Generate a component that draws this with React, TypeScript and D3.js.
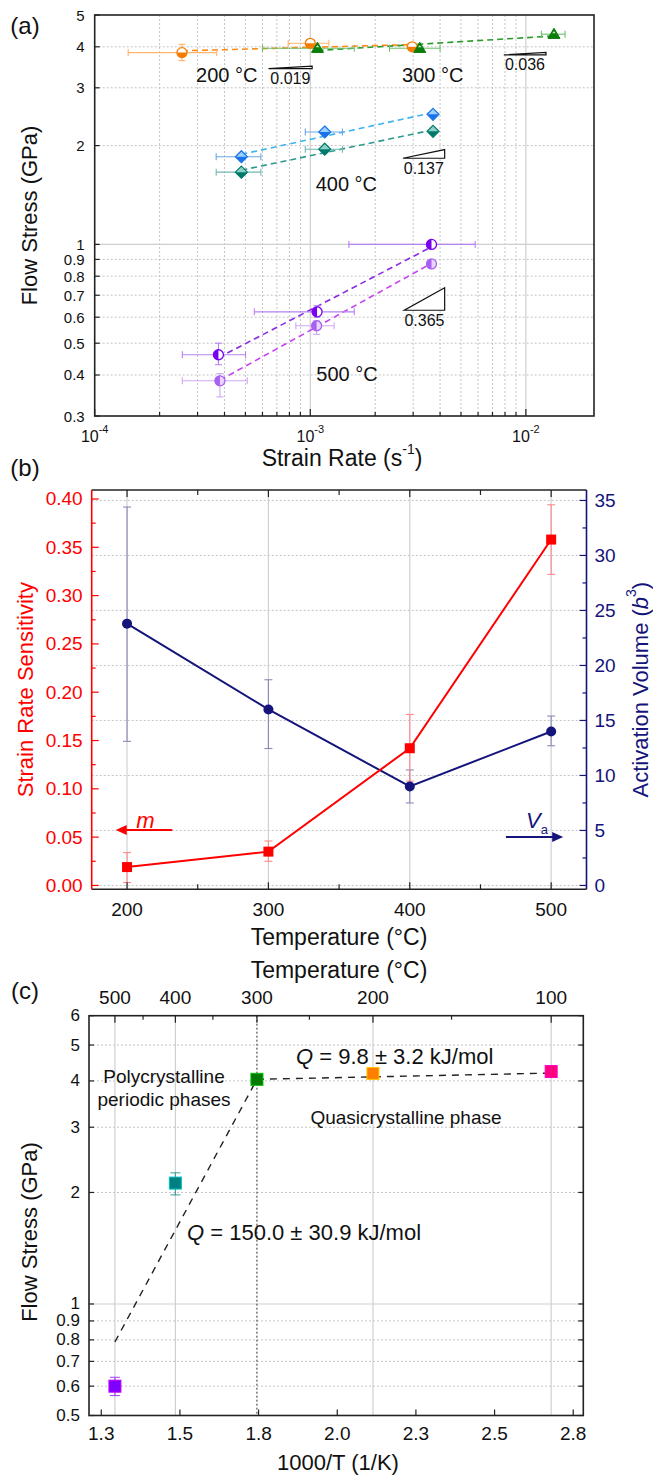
import React from "react";
import * as d3 from "d3";

const FONT = "Arial, 'Liberation Sans', Helvetica, sans-serif";
const W = 653;
const H = 1476;

// ---------------- Panel (a) data: strain-rate jump tests ----------------
interface RatePt {
  rate: number;
  stress: number;
  rateLo?: number;
  rateHi?: number;
  stressLo?: number;
  stressHi?: number;
}

const jump200: RatePt[] = [
  { rate: 2.54e-4, stress: 3.84, rateLo: 1.43e-4, rateHi: 3.68e-4, stressLo: 3.63, stressHi: 4.07 },
  { rate: 1.0e-3, stress: 4.1, rateLo: 7.9e-4, rateHi: 1.22e-3, stressLo: 4.0, stressHi: 4.2 },
  { rate: 2.97e-3, stress: 4.0 },
];
const jump300: RatePt[] = [
  { rate: 1.08e-3, stress: 3.96, rateLo: 6.0e-4, rateHi: 1.6e-3 },
  { rate: 3.22e-3, stress: 3.96, rateLo: 2.33e-3, rateHi: 4.0e-3 },
  { rate: 1.35e-2, stress: 4.37, rateLo: 1.18e-2, rateHi: 1.52e-2 },
];
const jump400a: RatePt[] = [
  { rate: 4.79e-4, stress: 1.85, rateLo: 3.66e-4, rateHi: 5.9e-4 },
  { rate: 1.167e-3, stress: 2.2, rateLo: 9.48e-4, rateHi: 1.41e-3 },
  { rate: 3.71e-3, stress: 2.49 },
];
const jump400b: RatePt[] = [
  { rate: 4.79e-4, stress: 1.66, rateLo: 3.66e-4, rateHi: 5.9e-4 },
  { rate: 1.167e-3, stress: 1.95, rateLo: 9.48e-4, rateHi: 1.41e-3 },
  { rate: 3.71e-3, stress: 2.21 },
];
const jump500a: RatePt[] = [
  { rate: 3.75e-4, stress: 0.461, rateLo: 2.55e-4, rateHi: 5.01e-4, stressLo: 0.43, stressHi: 0.5 },
  { rate: 1.075e-3, stress: 0.623, rateLo: 5.5e-4, rateHi: 1.6e-3, stressLo: 0.6, stressHi: 0.65 },
  { rate: 3.65e-3, stress: 1.0, rateLo: 1.51e-3, rateHi: 5.82e-3 },
];
const jump500b: RatePt[] = [
  { rate: 3.81e-4, stress: 0.384, rateLo: 2.55e-4, rateHi: 5.1e-4, stressLo: 0.343, stressHi: 0.404 },
  { rate: 1.07e-3, stress: 0.565, rateLo: 8.57e-4, rateHi: 1.29e-3, stressLo: 0.532, stressHi: 0.585 },
  { rate: 3.65e-3, stress: 0.872 },
];

const aYTicks = [0.3, 0.4, 0.5, 0.6, 0.7, 0.8, 0.9, 1, 2, 3, 4, 5];
const aXMajor = [1e-4, 1e-3, 1e-2];
const aXExp = ["-4", "-3", "-2"];

// slope triangles: m value, rate span, base stress
const slopeMarks = [
  { m: 0.019, rate0: 6.4e-4, rate1: 1.02e-3, base: 3.43 },
  { m: 0.036, rate0: 7.9e-3, rate1: 1.24e-2, base: 3.78 },
  { m: 0.137, rate0: 2.69e-3, rate1: 4.2e-3, base: 1.83 },
  { m: 0.365, rate0: 2.73e-3, rate1: 4.2e-3, base: 0.63 },
];
const tempLabelsA = [
  { text: "200 °C", rate: 4.1e-4, stress: 3.28 },
  { text: "300 °C", rate: 3.7e-3, stress: 3.28 },
  { text: "400 °C", rate: 1.47e-3, stress: 1.53 },
  { text: "500 °C", rate: 1.48e-3, stress: 0.402 },
];

// ---------------- Panel (b) data ----------------
const bTemps = [200, 300, 400, 500];
const mValues = [0.019, 0.035, 0.142, 0.358];
const mErrLo = [0.003, 0.025, 0.108, 0.322];
const mErrHi = [0.034, 0.046, 0.177, 0.394];
const vaValues = [23.8, 16.0, 9.0, 14.0];
const vaErrLo = [13.1, 12.45, 7.5, 12.7];
const vaErrHi = [34.4, 18.7, 10.5, 15.4];
const bXTicks = [200, 300, 400, 500];
const bLeftTicks = [0, 0.05, 0.1, 0.15, 0.2, 0.25, 0.3, 0.35, 0.4];
const bRightTicks = [0, 5, 10, 15, 20, 25, 30, 35];

// ---------------- Panel (c) data ----------------
const cTemps = [500, 400, 300, 200, 100];
const cStress = [0.6, 2.12, 4.04, 4.19, 4.24];
const cErrLo = [0.566, 1.97, null, null, null];
const cErrHi = [0.634, 2.26, null, null, null];
const cColors = ["#8000ff", "#008080", "#007a00", "#ff8000", "#ff0080"];
const cBottomTicks = [1.25, 1.5, 1.75, 2.0, 2.25, 2.5, 2.75];
const cTopMajor = [500, 400, 300, 200, 100];
const cTopMinor = [450, 350, 250, 150];
const cYTicks = [0.5, 0.6, 0.7, 0.8, 0.9, 1, 2, 3, 4, 5, 6];
const polyFit = [
  { temp: 500, stress: 0.79 },
  { temp: 300, stress: 4.04 },
];
const quasiFit = [
  { temp: 300, stress: 4.04 },
  { temp: 100, stress: 4.2 },
];

const invT = (t: number) => 1000 / (t + 273.15);

// ---------------- helpers ----------------
function logFit(pts: RatePt[]) {
  const xs = pts.map((p) => Math.log10(p.rate));
  const ys = pts.map((p) => Math.log10(p.stress));
  const mx = d3.mean(xs) as number;
  const my = d3.mean(ys) as number;
  let sxy = 0;
  let sxx = 0;
  xs.forEach((x, i) => {
    sxy += (x - mx) * (ys[i] - my);
    sxx += (x - mx) * (x - mx);
  });
  const slope = sxy / sxx;
  const x0 = d3.min(xs) as number;
  const x1 = d3.max(xs) as number;
  return [
    { rate: Math.pow(10, x0), stress: Math.pow(10, my + slope * (x0 - mx)) },
    { rate: Math.pow(10, x1), stress: Math.pow(10, my + slope * (x1 - mx)) },
  ];
}

function Marker({ shape, x, y, color, light, half }: any) {
  if (shape === "circle") {
    const r = 5;
    const d =
      half === "left"
        ? `M${x},${y - r}A${r},${r} 0 0 0 ${x},${y + r}Z`
        : `M${x - r},${y}A${r},${r} 0 0 0 ${x + r},${y}Z`;
    return (
      <g>
        <circle cx={x} cy={y} r={r} fill={light} stroke={color} strokeWidth={1.3} />
        <path d={d} fill={color} />
      </g>
    );
  }
  if (shape === "diamond") {
    const r = 6;
    return (
      <g>
        <polygon
          points={`${x},${y - r} ${x + r},${y} ${x},${y + r} ${x - r},${y}`}
          fill={light}
          stroke={color}
          strokeWidth={1.2}
        />
        <polygon points={`${x - r},${y} ${x},${y + r} ${x + r},${y}`} fill={color} />
      </g>
    );
  }
  const r = 6;
  return (
    <g>
      <polygon
        points={`${x},${y - r} ${x + r},${y + r * 0.7} ${x - r},${y + r * 0.7}`}
        fill={color}
        stroke={color}
        strokeWidth={1}
      />
      <polygon points={`${x},${y - r + 3} ${x + 1.8},${y - 1} ${x - 1.8},${y - 1}`} fill={light} />
    </g>
  );
}

// ---------------- Panel (a) ----------------
const aSeries = [
  { pts: jump200, color: "#f57c00", light: "#ffffff", line: "#ff8c1a", err: "#ffb36b", shape: "circle", half: "bottom" },
  { pts: jump300, color: "#0a7d0a", light: "#c8f0c8", line: "#2a9a2a", err: "#6cc06c", shape: "triangle", half: "bottom" },
  { pts: jump400a, color: "#1a73e8", light: "#9cd0ff", line: "#3bb4f0", err: "#6aa6e8", shape: "diamond", half: "bottom" },
  { pts: jump400b, color: "#00796b", light: "#8fd1c6", line: "#2a9a90", err: "#72b8b0", shape: "diamond", half: "bottom" },
  { pts: jump500a, color: "#7a00f0", light: "#ffffff", line: "#8a2be2", err: "#b583f0", shape: "circle", half: "left" },
  { pts: jump500b, color: "#a860f0", light: "#e8d4ff", line: "#c640f0", err: "#cfa8f5", shape: "circle", half: "left" },
];

function PanelA() {
  const L = 94.7, R = 594, T = 15, B = 416;
  const x = d3.scaleLog().domain([1e-4, 2.07e-2]).range([L, R]);
  const y = d3.scaleLog().domain([0.3, 5]).range([B, T]);
  const minorX: number[] = [];
  aXMajor.slice(0, 2).forEach((d) => {
    for (let k = 2; k <= 9; k++) minorX.push(d * k);
  });
  const dotted = { stroke: "#c4c4c4", strokeDasharray: "2,2", strokeWidth: 1 };
  const solid = { stroke: "#cfcfcf", strokeWidth: 1.2 };
  return (
    <g>
      {minorX.map((v) => (
        <line key={"gx" + v} x1={x(v)} x2={x(v)} y1={T} y2={B} {...dotted} />
      ))}
      {aXMajor.slice(1).map((v) => (
        <line key={"gX" + v} x1={x(v)} x2={x(v)} y1={T} y2={B} {...solid} />
      ))}
      {aYTicks
        .filter((v) => v !== 1 && v > 0.3 && v < 5)
        .map((v) => (
          <line key={"gy" + v} x1={L} x2={R} y1={y(v)} y2={y(v)} {...dotted} />
        ))}
      <line x1={L} x2={R} y1={y(1)} y2={y(1)} {...solid} />

      {aSeries.map((s, i) => {
        const f = logFit(s.pts);
        return (
          <line
            key={"fit" + i}
            x1={x(f[0].rate)}
            y1={y(f[0].stress)}
            x2={x(f[1].rate)}
            y2={y(f[1].stress)}
            stroke={s.line}
            strokeWidth={1.6}
            strokeDasharray="6,4"
          />
        );
      })}

      {aSeries.map((s, i) =>
        s.pts.map((p, j) => (
          <g key={`e${i}-${j}`} stroke={s.err} strokeWidth={1.1}>
            {p.rateLo !== undefined && (
              <>
                <line x1={x(p.rateLo)} x2={x(p.rateHi!)} y1={y(p.stress)} y2={y(p.stress)} />
                <line x1={x(p.rateLo)} x2={x(p.rateLo)} y1={y(p.stress) - 3.5} y2={y(p.stress) + 3.5} />
                <line x1={x(p.rateHi!)} x2={x(p.rateHi!)} y1={y(p.stress) - 3.5} y2={y(p.stress) + 3.5} />
              </>
            )}
            {p.stressLo !== undefined && (
              <>
                <line x1={x(p.rate)} x2={x(p.rate)} y1={y(p.stressLo)} y2={y(p.stressHi!)} />
                <line x1={x(p.rate) - 3.5} x2={x(p.rate) + 3.5} y1={y(p.stressLo)} y2={y(p.stressLo)} />
                <line x1={x(p.rate) - 3.5} x2={x(p.rate) + 3.5} y1={y(p.stressHi!)} y2={y(p.stressHi!)} />
              </>
            )}
          </g>
        ))
      )}

      {aSeries.map((s, i) =>
        s.pts.map((p, j) => (
          <Marker
            key={`m${i}-${j}`}
            shape={s.shape}
            x={x(p.rate)}
            y={y(p.stress)}
            color={s.color}
            light={s.light}
            half={s.half}
          />
        ))
      )}

      {slopeMarks.map((sm, i) => {
        const x0 = x(sm.rate0);
        const x1 = x(sm.rate1);
        const y0 = y(sm.base);
        const top = sm.base * Math.pow(sm.rate1 / sm.rate0, sm.m);
        const y1 = Math.min(y(top), y0 - 2.5);
        return (
          <g key={"sl" + i}>
            <polygon points={`${x0},${y0} ${x1},${y0} ${x1},${y1}`} fill="#fff" stroke="#111" strokeWidth={1.2} />
            <text x={(x0 + x1) / 2} y={y0 + 10} fontSize={16} textAnchor="middle" dominantBaseline="central" fill="#111">
              {sm.m.toFixed(3)}
            </text>
          </g>
        );
      })}

      {tempLabelsA.map((t, i) => (
        <text key={"tl" + i} x={x(t.rate)} y={y(t.stress)} fontSize={20} textAnchor="middle" dominantBaseline="central" fill="#111">
          {t.text}
        </text>
      ))}

      <rect x={L} y={T} width={R - L} height={B - T} fill="none" stroke="#222" strokeWidth={1.6} />
      {minorX.map((v) => (
        <line key={"tx" + v} x1={x(v)} x2={x(v)} y1={B} y2={B - 4} stroke="#222" strokeWidth={1.2} />
      ))}
      {aXMajor.map((v) => (
        <line key={"tX" + v} x1={x(v)} x2={x(v)} y1={B} y2={B - 7} stroke="#222" strokeWidth={1.2} />
      ))}
      {aYTicks.map((v) => (
        <line key={"ty" + v} x1={L} x2={L + 5} y1={y(v)} y2={y(v)} stroke="#222" strokeWidth={1.2} />
      ))}
      {aYTicks.map((v) => (
        <text key={"yl" + v} x={L - 10} y={y(v)} fontSize={15} textAnchor="end" dominantBaseline="central" fill="#111">
          {String(v)}
        </text>
      ))}
      {aXMajor.map((v, i) => (
        <text key={"xl" + v} x={x(v)} y={436} fontSize={16} textAnchor="middle" dominantBaseline="central" fill="#111">
          10
          <tspan dy={-7} fontSize={11}>
            {aXExp[i]}
          </tspan>
        </text>
      ))}
      <text x={342} y={458} fontSize={23} textAnchor="middle" dominantBaseline="central" fill="#111">
        Strain Rate (s<tspan dy={-9} fontSize={14}>-1</tspan>
        <tspan dy={9}>)</tspan>
      </text>
      <text transform={`translate(29,${(T + B) / 2}) rotate(-90)`} fontSize={22} textAnchor="middle" dominantBaseline="central" fill="#111">
        Flow Stress (GPa)
      </text>
      <text x={25} y={25} fontSize={24} textAnchor="middle" dominantBaseline="central" fill="#111">
        (a)
      </text>
    </g>
  );
}

// ---------------- Panel (b) ----------------
function PanelB() {
  const L = 91.7, R = 586.5, T = 490, B = 889.3;
  const x = d3.scaleLinear().domain([175, 525]).range([L, R]);
  const yl = d3.scaleLinear().domain([-0.004, 0.4093]).range([B, T]);
  const yr = d3.scaleLinear().domain([-0.35, 35.95]).range([B, T]);
  const red = "#ff0000";
  const navy = "#14147a";
  const mLine = d3.line<number>().x((_, i) => x(bTemps[i])).y((v) => yl(v));
  const vLine = d3.line<number>().x((_, i) => x(bTemps[i])).y((v) => yr(v));
  const xMinor = d3.range(200, 525, 50);
  const lMinor = d3.range(0.025, 0.41, 0.05);
  const rMinor = d3.range(2.5, 36, 5);
  return (
    <g>
      {bXTicks.map((v) => (
        <line key={"gx" + v} x1={x(v)} x2={x(v)} y1={T} y2={B} stroke="#d0d0d8" strokeWidth={1.2} />
      ))}
      {bRightTicks.map((v) => (
        <line key={"gy" + v} x1={L} x2={R} y1={yr(v)} y2={yr(v)} stroke="#c4c4c4" strokeDasharray="2,2" />
      ))}

      {bTemps.map((t, i) => (
        <g key={"ev" + i} stroke="#8a8ab8" strokeWidth={1.1}>
          <line x1={x(t)} x2={x(t)} y1={yr(vaErrLo[i])} y2={yr(vaErrHi[i])} />
          <line x1={x(t) - 4} x2={x(t) + 4} y1={yr(vaErrLo[i])} y2={yr(vaErrLo[i])} />
          <line x1={x(t) - 4} x2={x(t) + 4} y1={yr(vaErrHi[i])} y2={yr(vaErrHi[i])} />
        </g>
      ))}
      {bTemps.map((t, i) => (
        <g key={"em" + i} stroke="#ff8a8a" strokeWidth={1.1}>
          <line x1={x(t)} x2={x(t)} y1={yl(mErrLo[i])} y2={yl(mErrHi[i])} />
          <line x1={x(t) - 4} x2={x(t) + 4} y1={yl(mErrLo[i])} y2={yl(mErrLo[i])} />
          <line x1={x(t) - 4} x2={x(t) + 4} y1={yl(mErrHi[i])} y2={yl(mErrHi[i])} />
        </g>
      ))}

      <path d={vLine(vaValues) as string} fill="none" stroke={navy} strokeWidth={2} />
      <path d={mLine(mValues) as string} fill="none" stroke={red} strokeWidth={2} />
      {bTemps.map((t, i) => (
        <circle key={"vc" + i} cx={x(t)} cy={yr(vaValues[i])} r={5} fill={navy} />
      ))}
      {bTemps.map((t, i) => (
        <rect key={"ms" + i} x={x(t) - 5} y={yl(mValues[i]) - 5} width={10} height={10} fill={red} />
      ))}

      <line x1={x(232)} x2={x(196)} y1={yl(0.0574)} y2={yl(0.0574)} stroke={red} strokeWidth={2} />
      <polygon
        points={`${x(192)},${yl(0.0574)} ${x(192) + 11},${yl(0.0574) - 5} ${x(192) + 11},${yl(0.0574) + 5}`}
        fill={red}
      />
      <text x={x(213)} y={yl(0.0677)} fontSize={22} fontStyle="italic" textAnchor="middle" dominantBaseline="central" fill={red}>
        m
      </text>
      <line x1={x(468)} x2={x(504)} y1={yr(4.4)} y2={yr(4.4)} stroke={navy} strokeWidth={2} />
      <polygon
        points={`${x(508.5)},${yr(4.4)} ${x(508.5) - 11},${yr(4.4) - 5} ${x(508.5) - 11},${yr(4.4) + 5}`}
        fill={navy}
      />
      <text x={x(490)} y={yr(5.95)} fontSize={22} fontStyle="italic" textAnchor="middle" dominantBaseline="central" fill={navy}>
        V<tspan dy={9} fontSize={13} fontStyle="normal">a</tspan>
      </text>

      <line x1={L} x2={R} y1={T} y2={T} stroke="#222" strokeWidth={1.6} />
      <line x1={L} x2={R} y1={B} y2={B} stroke="#222" strokeWidth={1.6} />
      <line x1={L} x2={L} y1={T} y2={B} stroke={red} strokeWidth={1.6} />
      <line x1={R} x2={R} y1={T} y2={B} stroke={navy} strokeWidth={1.6} />
      {xMinor.map((v) => {
        const major = bXTicks.includes(v);
        return (
          <g key={"xt" + v} stroke="#222" strokeWidth={1.2}>
            <line x1={x(v)} x2={x(v)} y1={B} y2={B - (major ? 7 : 5)} />
            <line x1={x(v)} x2={x(v)} y1={T} y2={T + (major ? 7 : 5)} />
          </g>
        );
      })}
      {bLeftTicks.map((v) => (
        <line key={"lt" + v} x1={L} x2={L + 7} y1={yl(v)} y2={yl(v)} stroke={red} strokeWidth={1.2} />
      ))}
      {lMinor.map((v) => (
        <line key={"lm" + v} x1={L} x2={L + 4} y1={yl(v)} y2={yl(v)} stroke={red} strokeWidth={1.2} />
      ))}
      {bRightTicks.map((v) => (
        <line key={"rt" + v} x1={R} x2={R - 7} y1={yr(v)} y2={yr(v)} stroke={navy} strokeWidth={1.2} />
      ))}
      {rMinor.map((v) => (
        <line key={"rm" + v} x1={R} x2={R - 4} y1={yr(v)} y2={yr(v)} stroke={navy} strokeWidth={1.2} />
      ))}
      {bLeftTicks.map((v) => (
        <text key={"ll" + v} x={L - 9} y={yl(v)} fontSize={19} textAnchor="end" dominantBaseline="central" fill={red}>
          {v.toFixed(2)}
        </text>
      ))}
      {bRightTicks.map((v) => (
        <text key={"rl" + v} x={R + 8} y={yr(v)} fontSize={19} textAnchor="start" dominantBaseline="central" fill={navy}>
          {String(v)}
        </text>
      ))}
      {bXTicks.map((v) => (
        <text key={"xl" + v} x={x(v)} y={909} fontSize={19} textAnchor="middle" dominantBaseline="central" fill="#111">
          {String(v)}
        </text>
      ))}
      <text x={339} y={937} fontSize={23} textAnchor="middle" dominantBaseline="central" fill="#111">
        Temperature (°C)
      </text>
      <text transform={`translate(25,${(T + B) / 2}) rotate(-90)`} fontSize={22} textAnchor="middle" dominantBaseline="central" fill={red}>
        Strain Rate Sensitivity
      </text>
      <text transform={`translate(640,${(T + B) / 2}) rotate(-90)`} fontSize={22} textAnchor="middle" dominantBaseline="central" fill={navy}>
        Activation Volume (<tspan fontStyle="italic">b</tspan>
        <tspan dy={-9} fontSize={14}>3</tspan>
        <tspan dy={9}>)</tspan>
      </text>
      <text x={25} y={467} fontSize={24} textAnchor="middle" dominantBaseline="central" fill="#111">
        (b)
      </text>
    </g>
  );
}

// ---------------- Panel (c) ----------------
function PanelC() {
  const L = 89, R = 583.3, T = 1015.7, B = 1415.5;
  const x = d3.scaleLinear().domain([1.211, 2.782]).range([L, R]);
  const y = d3.scaleLog().domain([0.5, 6]).range([B, T]);
  const dotted = { stroke: "#c4c4c4", strokeDasharray: "2,2", strokeWidth: 1 };
  const fitPath = (pts: { temp: number; stress: number }[]) =>
    d3
      .line<{ temp: number; stress: number }>()
      .x((d) => x(invT(d.temp)))
      .y((d) => y(d.stress))(pts) as string;
  return (
    <g>
      {cYTicks
        .filter((v) => v !== 1 && v > 0.5 && v < 6)
        .map((v) => (
          <line key={"gy" + v} x1={L} x2={R} y1={y(v)} y2={y(v)} {...dotted} />
        ))}
      <line x1={L} x2={R} y1={y(1)} y2={y(1)} stroke="#cfcfcf" strokeWidth={1.2} />
      {cTopMajor
        .filter((t) => t !== 300)
        .map((t) => (
          <line key={"gv" + t} x1={x(invT(t))} x2={x(invT(t))} y1={T} y2={B} stroke="#d0d0d0" strokeWidth={1.2} />
        ))}
      <line x1={x(invT(300))} x2={x(invT(300))} y1={T} y2={B} stroke="#333" strokeWidth={1} strokeDasharray="2,2" />

      <path d={fitPath(polyFit)} fill="none" stroke="#222" strokeWidth={1.4} strokeDasharray="7,6" />
      <path d={fitPath(quasiFit)} fill="none" stroke="#222" strokeWidth={1.4} strokeDasharray="7,6" />

      {cTemps.map((t, i) =>
        cErrLo[i] !== null ? (
          <g key={"ce" + i} stroke={cColors[i]} strokeWidth={1.1} opacity={0.7}>
            <line x1={x(invT(t))} x2={x(invT(t))} y1={y(cErrLo[i] as number)} y2={y(cErrHi[i] as number)} />
            <line x1={x(invT(t)) - 5} x2={x(invT(t)) + 5} y1={y(cErrLo[i] as number)} y2={y(cErrLo[i] as number)} />
            <line x1={x(invT(t)) - 5} x2={x(invT(t)) + 5} y1={y(cErrHi[i] as number)} y2={y(cErrHi[i] as number)} />
          </g>
        ) : null
      )}
      {cTemps.map((t, i) => (
        <rect
          key={"cs" + i}
          x={x(invT(t)) - 6}
          y={y(cStress[i]) - 6}
          width={12}
          height={12}
          fill={cColors[i]}
          stroke={d3.color(cColors[i])!.brighter(1.2).toString()}
          strokeWidth={1}
        />
      ))}

      <text x={164} y={1076} fontSize={19} textAnchor="middle" dominantBaseline="central" fill="#111">
        Polycrystalline
      </text>
      <text x={164} y={1099} fontSize={19} textAnchor="middle" dominantBaseline="central" fill="#111">
        periodic phases
      </text>
      <text x={406} y={1117} fontSize={19} textAnchor="middle" dominantBaseline="central" fill="#111">
        Quasicrystalline phase
      </text>
      <text x={296} y={1056} fontSize={22} dominantBaseline="central" fill="#111">
        <tspan fontStyle="italic">Q</tspan> = 9.8 ± 3.2 kJ/mol
      </text>
      <text x={187} y={1232} fontSize={22} dominantBaseline="central" fill="#111">
        <tspan fontStyle="italic">Q</tspan> = 150.0 ± 30.9 kJ/mol
      </text>

      <rect x={L} y={T} width={R - L} height={B - T} fill="none" stroke="#222" strokeWidth={1.6} />
      {cBottomTicks.map((v) => (
        <line key={"bt" + v} x1={x(v)} x2={x(v)} y1={B} y2={B - 6} stroke="#222" strokeWidth={1.2} />
      ))}
      {cTopMajor.map((t) => (
        <line key={"tt" + t} x1={x(invT(t))} x2={x(invT(t))} y1={T} y2={T + 7} stroke="#222" strokeWidth={1.2} />
      ))}
      {cTopMinor.map((t) => (
        <line key={"tm" + t} x1={x(invT(t))} x2={x(invT(t))} y1={T} y2={T + 4} stroke="#222" strokeWidth={1.2} />
      ))}
      {cYTicks.map((v) => (
        <g key={"yt" + v} stroke="#222" strokeWidth={1.2}>
          <line x1={L} x2={L + 5} y1={y(v)} y2={y(v)} />
          <line x1={R} x2={R - 5} y1={y(v)} y2={y(v)} />
        </g>
      ))}
      {cYTicks.map((v) => (
        <text key={"yl" + v} x={L - 9} y={y(v)} fontSize={17} textAnchor="end" dominantBaseline="central" fill="#111">
          {String(v)}
        </text>
      ))}
      {cBottomTicks.map((v) => (
        <text key={"bl" + v} x={x(v)} y={1433} fontSize={19} textAnchor="middle" dominantBaseline="central" fill="#111">
          {d3.format(".1f")(v)}
        </text>
      ))}
      {cTopMajor.map((t) => (
        <text key={"tl" + t} x={x(invT(t))} y={997} fontSize={19} textAnchor="middle" dominantBaseline="central" fill="#111">
          {String(t)}
        </text>
      ))}
      <text x={339} y={970} fontSize={23} textAnchor="middle" dominantBaseline="central" fill="#111">
        Temperature (°C)
      </text>
      <text x={338} y={1462} fontSize={22} textAnchor="middle" dominantBaseline="central" fill="#111">
        1000/T (1/K)
      </text>
      <text transform={`translate(29,1232) rotate(-90)`} fontSize={22} textAnchor="middle" dominantBaseline="central" fill="#111">
        Flow Stress (GPa)
      </text>
      <text x={25} y={990} fontSize={24} textAnchor="middle" dominantBaseline="central" fill="#111">
        (c)
      </text>
    </g>
  );
}

export default function App() {
  return (
    <svg
      width={W}
      height={H}
      viewBox={`0 0 ${W} ${H}`}
      style={{ position: "absolute", left: 0, top: 0, background: "#fff" }}
      fontFamily={FONT}
    >
      <rect width={W} height={H} fill="#fff" />
      <PanelA />
      <PanelB />
      <PanelC />
    </svg>
  );
}
